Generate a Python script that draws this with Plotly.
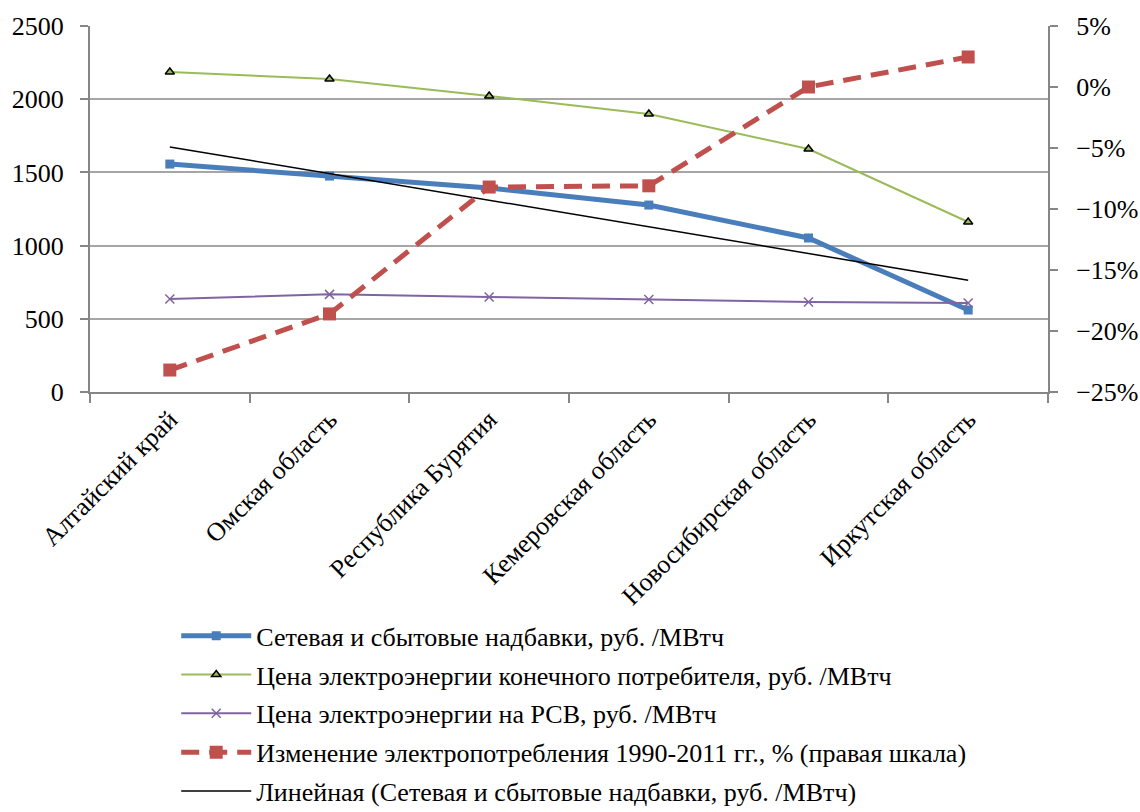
import numpy as np
import plotly.graph_objects as go

regions = ["Алтайский край", "Омская область", "Республика Бурятия",
           "Кемеровская область", "Новосибирская область", "Иркутская область"]

grid_markup = [1557, 1475, 1393, 1277, 1052, 560]        # руб./МВтч
end_price = [2186, 2138, 2022, 1899, 1660, 1161]         # руб./МВтч
wholesale_price = [635, 667, 649, 632, 615, 608]         # руб./МВтч
consumption_change = [-0.232, -0.186, -0.082, -0.081, 0.0, 0.0246]  # доля

names = [
    "Сетевая и сбытовые надбавки, руб. /МВтч",
    "Цена электроэнергии конечного потребителя, руб. /МВтч",
    "Цена электроэнергии на РСВ, руб. /МВтч",
    "Изменение электропотребления 1990-2011 гг., % (правая шкала)",
    "Линейная (Сетевая и сбытовые надбавки, руб. /МВтч)",
]

# linear trend of the network/sales markup
idx = np.arange(1, len(regions) + 1)
k, b = np.polyfit(idx, grid_markup, 1)
trend = k * idx + b

FONT = "Liberation Serif"
FS = 26
AX = "#868686"

fig = go.Figure()
fig.add_trace(go.Scatter(
    x=regions, y=grid_markup, name=names[0], mode="lines+markers",
    line=dict(color="#4A7EBB", width=5),
    marker=dict(symbol="square", size=9, color="#4A7EBB"),
    legendgroup="a"))
fig.add_trace(go.Scatter(
    x=regions, y=end_price, name=names[1], mode="lines+markers",
    line=dict(color="#9BBB59", width=2),
    marker=dict(symbol="triangle-up", size=8, color="#9BBB59",
                line=dict(color="black", width=1.5)),
    legendgroup="b"))
fig.add_trace(go.Scatter(
    x=regions, y=wholesale_price, name=names[2], mode="lines+markers",
    line=dict(color="#8064A2", width=2),
    marker=dict(symbol="x-thin-open", size=9, color="#8064A2",
                line=dict(color="#8064A2", width=1.5)),
    legendgroup="c"))
fig.add_trace(go.Scatter(
    x=regions, y=consumption_change, name=names[3], mode="lines+markers",
    yaxis="y2",
    line=dict(color="#C0504D", width=5, dash="18px,10px"),
    marker=dict(symbol="square", size=13, color="#C0504D"),
    legendgroup="d"))
fig.add_trace(go.Scatter(
    x=regions, y=trend, name=names[4], mode="lines",
    line=dict(color="black", width=1.5),
    legendgroup="e"))

fig.update_layout(
    width=1140, height=812,
    margin=dict(l=90, r=92, t=26, b=420, autoexpand=False),
    paper_bgcolor="white", plot_bgcolor="white",
    font=dict(family=FONT, size=FS, color="black"),
    showlegend=True,
    legend=dict(
        x=0.09, y=-0.602, xanchor="left", yanchor="top",
        orientation="v", tracegroupgap=2,
        font=dict(family=FONT, size=FS, color="black"),
        bgcolor="rgba(0,0,0,0)", itemwidth=70,
    ),
    xaxis=dict(
        type="category", showgrid=False, showline=True, linecolor=AX, linewidth=2,
        ticks="outside", tickson="boundaries", ticklen=9, tickcolor=AX, tickwidth=2,
        tickangle=-45, tickfont=dict(family=FONT, size=FS, color="black"),
        range=[-0.5, 5.5], automargin=False,
    ),
    yaxis=dict(
        range=[0, 2500], dtick=500, showgrid=True, gridcolor="#A6A6A6", gridwidth=2,
        showline=True, linecolor=AX, linewidth=2, ticks="outside", ticklen=8,
        tickcolor=AX, tickwidth=2, zeroline=False, automargin=False,
        ticklabelstandoff=11,
        tickfont=dict(family=FONT, size=FS, color="black"),
    ),
    yaxis2=dict(
        overlaying="y", side="right", range=[-0.25, 0.05], dtick=0.05,
        tickformat=".0%", showgrid=False, showline=True, linecolor=AX, linewidth=2,
        ticks="outside", ticklen=8, tickcolor=AX, tickwidth=2, zeroline=False,
        automargin=False, ticklabelstandoff=13,
        tickfont=dict(family=FONT, size=FS, color="black"),
    ),
)

fig.write_html("out.html")
